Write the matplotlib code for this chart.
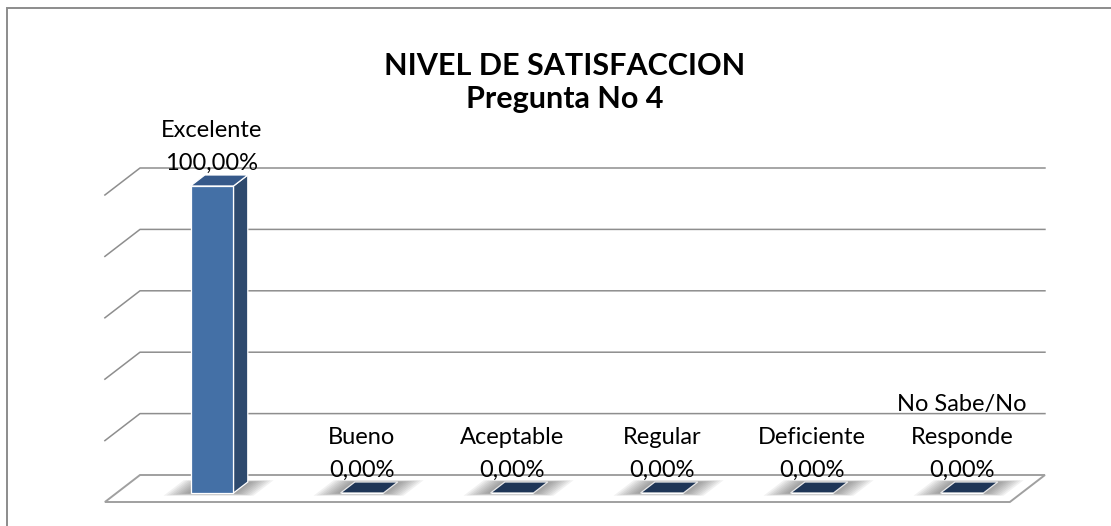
import matplotlib.pyplot as plt
from matplotlib.patches import Polygon, Rectangle

categorias = ['Excelente', 'Bueno', 'Aceptable', 'Regular', 'Deficiente', 'No Sabe/No\nResponde']
valores = [100.0, 0.0, 0.0, 0.0, 0.0, 0.0]
niveles = [0, 20, 40, 60, 80, 100]
titulo = ['NIVEL DE SATISFACCION', 'Pregunta No 4']

plt.rcParams['font.family'] = ['Lato', 'DejaVu Sans']

W, H = 1111, 526
fig = plt.figure(figsize=(W / 100, H / 100), dpi=100)
ax = fig.add_axes([0, 0, 1, 1])

# escala: px por categoria y px por punto porcentual
PXC = 150.0
PXP = 3.07
X0, Y0 = 212.0, 493.0
ax.set_xlim(-X0 / PXC, (W - X0) / PXC)
ax.set_ylim((Y0 - H) / PXP, Y0 / PXP)
ax.axis('off')

KX = 1.3  # desplazamiento horizontal por px de profundidad


def proj(x, y, z):
    return (x + KX * z / PXC, y + z / PXP)


WL, WR = -0.636, 5.397
ZF, ZB = -9, 18
gris = '#8e8e8e'

# piso
piso = [proj(WL, 0, ZF), proj(WR, 0, ZF), proj(WR, 0, ZB), proj(WL, 0, ZB)]
ax.add_patch(Polygon(piso, closed=True, facecolor='white', edgecolor='#a0a0a0', lw=1.4, zorder=1))

# lineas de la pared y lateral
for v in niveles[1:]:
    a = proj(WL, v, ZB)
    b = proj(WR, v, ZB)
    c = proj(WL, v, ZF)
    ax.plot([c[0], a[0], b[0]], [c[1], a[1], b[1]], color=gris, lw=1.1, zorder=2)

hw = 0.1433
dz = 11

# sombras
for i, v in enumerate(valores):
    for k in range(9):
        e = (9 - k) * 2.6 / PXC
        ez = (9 - k) * 1.0
        pts = [proj(i - hw - e, 0, -ez * 0.3), proj(i + hw + e, 0, -ez * 0.3),
               proj(i + hw + e, 0, dz + ez * 0.2), proj(i - hw - e, 0, dz + ez * 0.2)]
        ax.add_patch(Polygon(pts, closed=True, facecolor='#505050', edgecolor='none',
                             alpha=0.08, zorder=3))

# barras
x = list(range(len(categorias)))
ax.bar(x, valores, width=2 * hw, color='#4470a6', edgecolor='white', lw=0.9, zorder=5)
for i, v in enumerate(valores):
    lado = [proj(i + hw, 0, 0), proj(i + hw, v, 0), proj(i + hw, v, dz), proj(i + hw, 0, dz)]
    tapa = [proj(i - hw, v, 0), proj(i + hw, v, 0), proj(i + hw, v, dz), proj(i - hw, v, dz)]
    if v > 0:
        ax.add_patch(Polygon(lado, closed=True, facecolor='#2e4a6e', edgecolor='white', lw=0.9, zorder=4))
        ax.add_patch(Polygon(tapa, closed=True, facecolor='#36598a', edgecolor='white', lw=0.9, zorder=4))
    else:
        ax.add_patch(Polygon(tapa, closed=True, facecolor='#1f3657', edgecolor='#e8e8e8', lw=0.9, zorder=4))

# etiquetas (una linea por texto, 33 px entre lineas)
for i, v in enumerate(valores):
    lineas = categorias[i].split('\n') + [('%.2f%%' % v).replace('.', ',')]
    for j, t in enumerate(reversed(lineas)):
        ax.annotate(t, xy=(i, v), xytext=(0, 16 + 33 * j), textcoords='offset pixels',
                    ha='center', va='baseline', fontsize=17, color='black', zorder=6)

for j, t in enumerate(titulo):
    fig.text(565 / W, 1 - (75 + 33 * j) / H, t, ha='center', va='baseline', fontsize=22,
             fontweight='bold')

fig.add_artist(Rectangle((7 / W, -0.05), 1.2, 1.05 - 8 / H, transform=fig.transFigure,
                         fill=False, edgecolor='#8c8c8c', lw=1.4))

fig.savefig('out.png', dpi=100)
